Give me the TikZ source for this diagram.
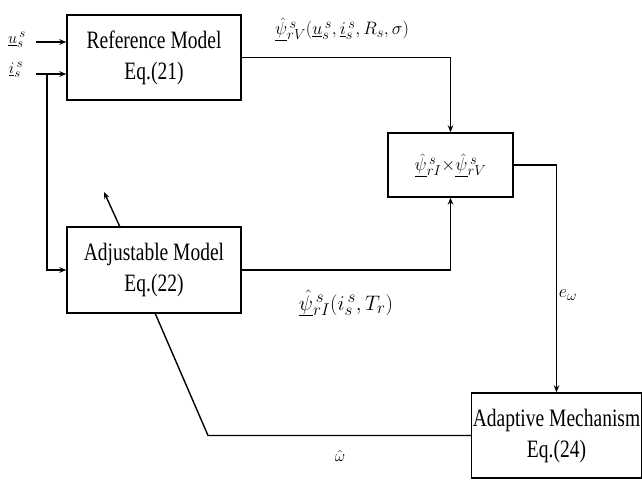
\RequirePackage{fix-cm}
\documentclass[tikz,border=0pt]{standalone}
\usepackage{fontspec}
\setmainfont{Liberation Serif}
\usetikzlibrary{arrows.meta}
\DeclareMathSizes{16}{16}{13}{10}
\DeclareMathSizes{18}{18}{14.5}{11}
\DeclareMathSizes{21}{21}{17}{13}
\tikzset{
  blk/.style={draw, line width=1.4pt, rectangle, inner sep=0pt, align=center, fill=white, font=\fontsize{25}{31}\selectfont},
  conn/.style={line width=1.4pt},
  arr/.style={conn, -{Stealth[length=7pt,width=5.5pt]}},
  lbl/.style={inner sep=0pt}
}
\newcommand{\nx}[1]{\scalebox{0.78}[1]{#1}}
\begin{document}
\begin{tikzpicture}[x=1pt,y=-1pt]
\useasboundingbox (0,0) rectangle (642,479);
% boxes
\node[blk, minimum width=174pt, minimum height=85pt] (ref) at (154,57.5) {\nx{Reference Model}\\\nx{Eq.(21)}};
\node[blk, minimum width=174pt, minimum height=86pt] (adj) at (154,270) {\nx{Adjustable Model}\\\nx{Eq.(22)}};
\node[blk, minimum width=125pt, minimum height=64pt, font=\fontsize{18}{20}\selectfont] (prod) at (450.5,165) {$\underline{\hat{\psi}}{}^{\,s}_{rI}{\times}\underline{\hat{\psi}}{}^{\,s}_{rV}$};
\node[blk, minimum width=170pt, minimum height=85pt] (adapt) at (556.5,435.5) {\nx{Adaptive Mechanism}\\\nx{Eq.(24)}};
% input labels
\node[lbl, font=\fontsize{16}{18}\selectfont] (ulab) at (17,40) {$\underline{u}{}^{\,s}_{s}$};
\node[lbl, font=\fontsize{16}{18}\selectfont] (ilab) at (16,70) {$\underline{i}{}^{\,s}_{s}$};
\coordinate (uin) at (36,42);
\coordinate (iin) at (36,74);
\coordinate (split) at (47,74);
\coordinate (feed) at (47,270);
\draw[arr] (uin) -- (ref.west |- uin);
\draw[arr] (iin) -- (ref.west |- iin);
\draw[arr] (split) -- (feed) -- (adj.west);
% signals
\draw[arr] (ref.east) -| (prod.north);
\draw[arr] (adj.east) -| (prod.south);
\draw[arr] (prod.east) -| (adapt.north);
% omega feedback and adjustment arrow
\coordinate (corner) at (208,435.5);
\coordinate (dbot) at (155,313);
\coordinate (dtop) at (120,227);
\coordinate (dtip) at (104,192);
\draw[conn] (adapt.west) -- (corner) -- (dbot);
\draw[arr] (dtop) -- (dtip);
% labels
\node[lbl, font=\fontsize{18}{20}\selectfont] (lv) at (342,29) {$\underline{\hat{\psi}}{}^{\,s}_{rV}(\underline{u}{}^{\,s}_{s},\underline{i}{}^{\,s}_{s},R_{s},\sigma)$};
\node[lbl, font=\fontsize{21}{24}\selectfont] (li) at (346,303) {$\underline{\hat{\psi}}{}^{\,s}_{rI}(i^{\,s}_{s},T_{r})$};
\node[lbl, font=\fontsize{18}{20}\selectfont] (le) at (568,295) {$e_{\omega}$};
\node[lbl, font=\fontsize{16}{18}\selectfont] (lw) at (340,456) {$\hat{\omega}$};
\end{tikzpicture}
\end{document}
